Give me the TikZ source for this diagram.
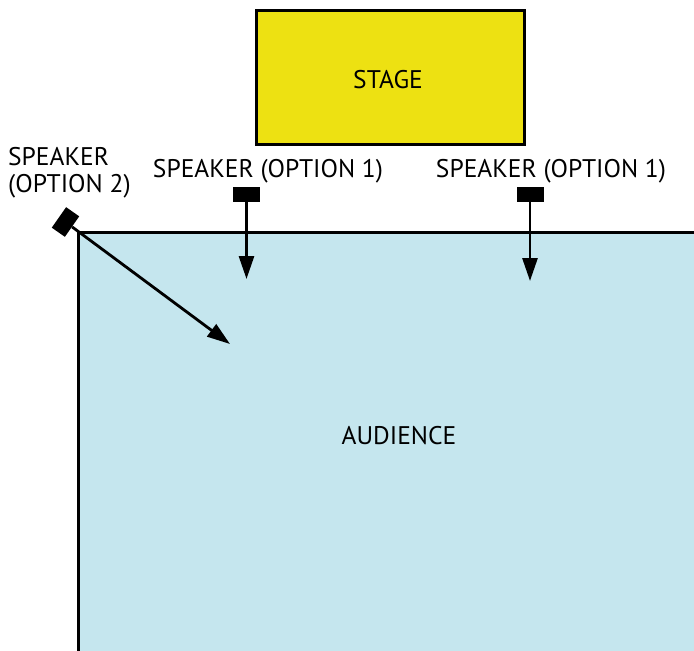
\documentclass[tikz,border=0pt]{standalone}
\usepackage{fontspec}
\setmainfont{PT Sans}
\usetikzlibrary{arrows.meta}
\definecolor{stageyellow}{RGB}{237,225,18}
\definecolor{audblue}{RGB}{197,230,238}
\tikzset{
  lbl/.style={font=\fontsize{25.5}{27}\selectfont, inner sep=0pt},
  spk/.style={fill=black, draw=none, minimum width=27pt, minimum height=15pt, inner sep=0pt},
  beam/.style={line width=2.8pt, -{Triangle[length=23pt,width=15pt]}},
}
\begin{document}
\begin{tikzpicture}[x=1pt,y=-1pt]
\useasboundingbox (0,0) rectangle (694,651);
% audience area
\fill[audblue] (78,232) rectangle (694,651);
\draw[line width=3pt] (696,232) -- (78,232) -- (78,653);
\node[lbl] (aud) at (399,436) {AUDIENCE};
% stage
\node[draw, line width=2.5pt, fill=stageyellow, minimum width=268pt, minimum height=134pt, inner sep=0pt, anchor=north west] (stage) at (255,9) {};
\node[lbl] (stagelbl) at (388,80) {STAGE};
% speaker labels
\node[lbl] (l1) at (268,171) {SPEAKER (OPTION 1)};
\node[lbl] (l2) at (551,171) {SPEAKER (OPTION 1)};
\node[lbl, align=left, anchor=west] (l3) at (8,173) {SPEAKER\\(OPTION 2)};
% speakers
\node[spk] (s1) at (246.5,194.5) {};
\node[spk] (s2) at (530,194.5) {};
\node[spk, minimum width=25pt, minimum height=16pt, rotate=55] (s3) at (65.5,222) {};
\coordinate (t1) at (246.5,279);
\coordinate (t2) at (530,281);
\coordinate (t3) at (230,344);
\draw[beam] (s1) -- (t1);
\draw[beam] (s2) -- (t2);
\draw[beam] (s3) -- (t3);
\end{tikzpicture}
\end{document}
